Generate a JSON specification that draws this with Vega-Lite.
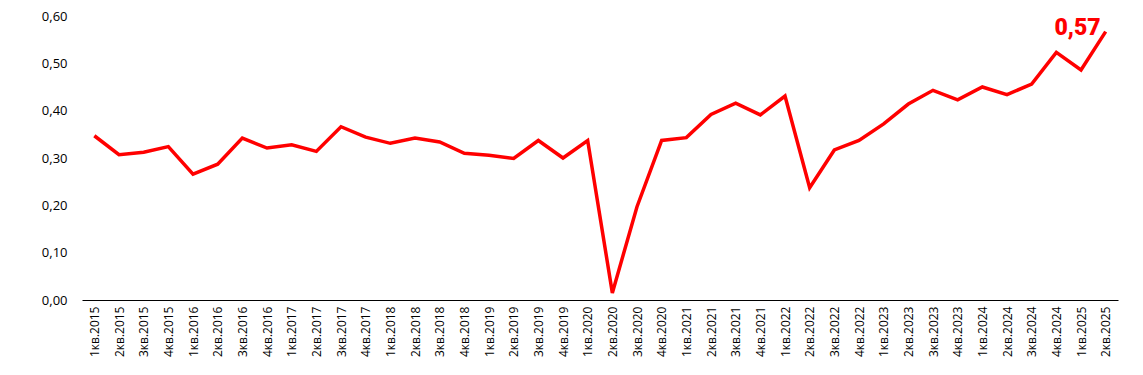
{
  "$schema": "https://vega.github.io/schema/vega-lite/v6.json",
  "autosize": "none",
  "width": 1036,
  "height": 284,
  "padding": {"left": 82, "top": 16, "right": 25, "bottom": 75},
  "background": "white",
  "config": {
    "view": {"stroke": null},
    "locale": {"number": {"decimal": ",", "thousands": " ", "grouping": [3], "currency": ["", " ₽"]}},
    "font": "Open Sans"
  },
  "data": {
    "values": [
      {"q": "1кв.2015", "v": 0.347},
      {"q": "2кв.2015", "v": 0.307},
      {"q": "3кв.2015", "v": 0.312},
      {"q": "4кв.2015", "v": 0.324},
      {"q": "1кв.2016", "v": 0.266},
      {"q": "2кв.2016", "v": 0.287},
      {"q": "3кв.2016", "v": 0.342},
      {"q": "4кв.2016", "v": 0.321},
      {"q": "1кв.2017", "v": 0.328},
      {"q": "2кв.2017", "v": 0.314},
      {"q": "3кв.2017", "v": 0.366},
      {"q": "4кв.2017", "v": 0.344},
      {"q": "1кв.2018", "v": 0.331},
      {"q": "2кв.2018", "v": 0.342},
      {"q": "3кв.2018", "v": 0.334},
      {"q": "4кв.2018", "v": 0.310},
      {"q": "1кв.2019", "v": 0.306},
      {"q": "2кв.2019", "v": 0.299},
      {"q": "3кв.2019", "v": 0.337},
      {"q": "4кв.2019", "v": 0.300},
      {"q": "1кв.2020", "v": 0.337},
      {"q": "2кв.2020", "v": 0.015},
      {"q": "3кв.2020", "v": 0.197},
      {"q": "4кв.2020", "v": 0.337},
      {"q": "1кв.2021", "v": 0.343},
      {"q": "2кв.2021", "v": 0.392},
      {"q": "3кв.2021", "v": 0.416},
      {"q": "4кв.2021", "v": 0.391},
      {"q": "1кв.2022", "v": 0.431},
      {"q": "2кв.2022", "v": 0.237},
      {"q": "3кв.2022", "v": 0.317},
      {"q": "4кв.2022", "v": 0.337},
      {"q": "1кв.2023", "v": 0.372},
      {"q": "2кв.2023", "v": 0.414},
      {"q": "3кв.2023", "v": 0.443},
      {"q": "4кв.2023", "v": 0.423},
      {"q": "1кв.2024", "v": 0.450},
      {"q": "2кв.2024", "v": 0.434},
      {"q": "3кв.2024", "v": 0.456},
      {"q": "4кв.2024", "v": 0.523},
      {"q": "1кв.2025", "v": 0.486},
      {"q": "2кв.2025", "v": 0.567}
    ]
  },
  "encoding": {
    "x": {
      "field": "q",
      "type": "ordinal",
      "sort": null,
      "scale": {"type": "point", "padding": 0.5},
      "axis": {
        "title": null,
        "labelAngle": -90,
        "labelFontSize": 12,
        "labelColor": "#000000",
        "labelPadding": 6,
        "ticks": false,
        "domainColor": "#000000",
        "domainWidth": 1.2,
        "grid": false
      }
    },
    "y": {
      "field": "v",
      "type": "quantitative",
      "scale": {"domain": [0, 0.6], "nice": false},
      "axis": {
        "title": null,
        "values": [0, 0.1, 0.2, 0.3, 0.4, 0.5, 0.6],
        "format": ".2f",
        "grid": false,
        "domain": false,
        "ticks": false,
        "labelFontSize": 13,
        "labelColor": "#000000",
        "labelPadding": 15
      }
    }
  },
  "layer": [
    {
      "mark": {"type": "line", "color": "#FF0000", "strokeWidth": 3.5, "strokeJoin": "miter"}
    },
    {
      "transform": [{"filter": "datum.q == '2кв.2025'"}],
      "mark": {
        "type": "text",
        "color": "#FF0000",
        "fontSize": 23,
        "fontWeight": 900,
        "font": "Roboto",
        "align": "right",
        "baseline": "alphabetic",
        "dx": -5,
        "dy": 3
      },
      "encoding": {
        "text": {"field": "v", "type": "quantitative", "format": ".2f"}
      }
    }
  ]
}
